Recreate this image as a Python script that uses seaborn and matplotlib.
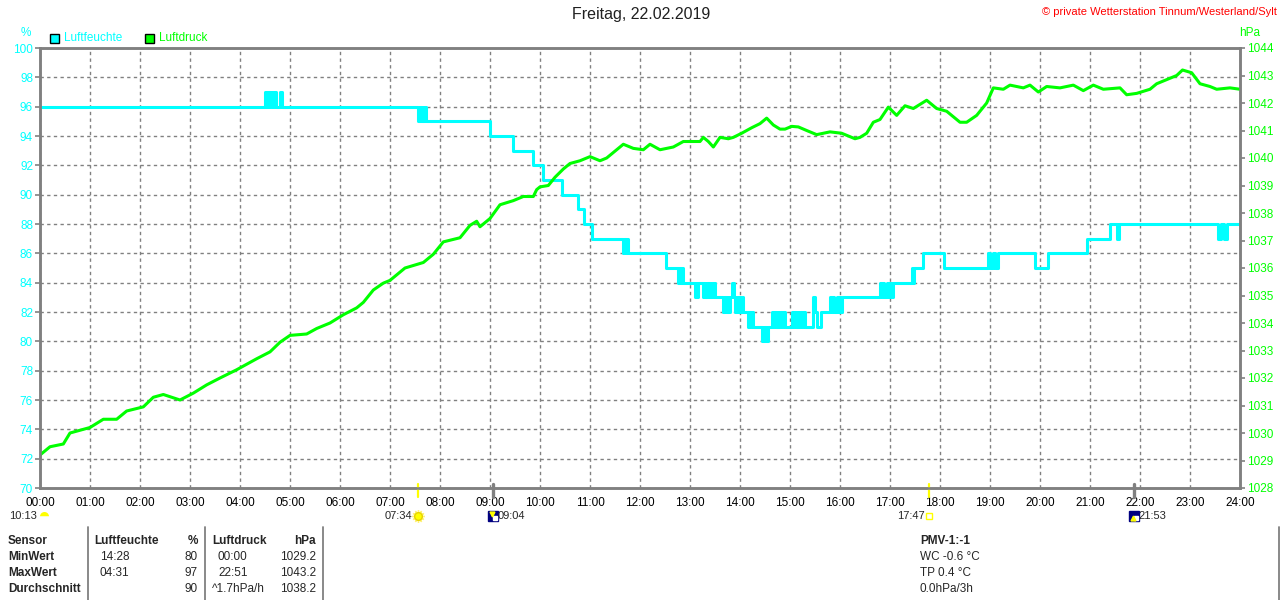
import numpy as np
import pandas as pd
import matplotlib.pyplot as plt
import seaborn as sns
from matplotlib.lines import Line2D
from matplotlib.patches import Rectangle
from matplotlib.transforms import blended_transform_factory, offset_copy


# Texte
titel = "Freitag, 22.02.2019"
quelle = "© private Wetterstation Tinnum/Westerland/Sylt"
x_labels = ["00:00", "01:00", "02:00", "03:00", "04:00", "05:00", "06:00", "07:00",
            "08:00", "09:00", "10:00", "11:00", "12:00", "13:00", "14:00", "15:00",
            "16:00", "17:00", "18:00", "19:00", "20:00", "21:00", "22:00", "23:00", "24:00"]

# Luftfeuchte (%), Stufenwerte
feuchte_zeit = ["00:00",
                "04:30", "04:31", "04:32", "04:34", "04:35", "04:37", "04:38", "04:40",
                "04:41", "04:43", "04:48", "04:50",
                "07:34", "07:36", "07:37", "07:39", "07:40", "07:42", "07:43",
                "09:00", "09:28", "09:52", "10:04", "10:26", "10:46", "10:53", "11:02",
                "11:40", "11:41", "11:43", "11:44", "11:46",
                "12:31", "12:46", "12:47", "12:49", "12:50", "12:52",
                "13:06", "13:07", "13:08", "13:09", "13:11", "13:16", "13:17", "13:18",
                "13:20", "13:22", "13:23", "13:24", "13:26", "13:28", "13:29", "13:30",
                "13:40", "13:42", "13:43", "13:45", "13:46", "13:48", "13:50", "13:53",
                "13:54", "13:56", "13:57", "13:59", "14:00", "14:02", "14:04",
                "14:10", "14:11", "14:13", "14:14", "14:16", "14:18",
                "14:26", "14:27", "14:28", "14:30", "14:31", "14:34",
                "14:38", "14:40", "14:41", "14:43", "14:45", "14:46", "14:48", "14:50", "14:52", "14:54",
                "15:02", "15:04", "15:05", "15:07", "15:09", "15:10", "15:12", "15:14", "15:16", "15:18", "15:20",
                "15:28", "15:30", "15:32", "15:37",
                "15:48", "15:50", "15:51", "15:53", "15:56", "15:57", "15:59", "16:00", "16:02", "16:04",
                "16:48", "16:50", "16:51", "16:53", "16:56", "16:58", "17:00", "17:02", "17:04",
                "17:26", "17:27", "17:29", "17:40", "18:05",
                "18:58", "19:00", "19:03", "19:06", "19:10",
                "19:54", "20:10", "20:56", "21:24", "21:32", "21:35",
                "23:34", "23:37", "23:41", "23:44", "24:00"]
feuchte_wert = [96,
                97, 96, 97, 96, 97, 96, 97, 96,
                97, 96, 97, 96,
                95, 96, 95, 96, 95, 96, 95,
                94, 93, 92, 91, 90, 89, 88, 87,
                86, 87, 86, 87, 86,
                85, 84, 85, 84, 85, 84,
                83, 84, 83, 84, 84, 83, 84, 83,
                84, 83, 84, 83, 84, 83, 84, 83,
                82, 83, 82, 83, 82, 83, 84, 83,
                82, 83, 82, 83, 82, 83, 82,
                81, 82, 81, 82, 81, 81,
                80, 81, 80, 81, 80, 81,
                82, 81, 82, 81, 82, 81, 82, 81, 82, 81,
                82, 81, 82, 81, 82, 81, 82, 81, 82, 81, 81,
                83, 82, 81, 82,
                83, 82, 83, 82, 83, 82, 83, 82, 83, 83,
                84, 83, 84, 83, 84, 83, 84, 83, 84,
                85, 84, 85, 86, 85,
                86, 85, 86, 85, 86,
                85, 86, 87, 88, 87, 88,
                87, 88, 87, 88, 88]

# Luftdruck (hPa)
druck_zeit = ["00:00", "00:12", "00:28", "00:36", "01:00", "01:16", "01:32", "01:44",
              "02:04", "02:16", "02:28", "02:48", "03:04", "03:20", "03:36", "03:56",
              "04:20", "04:36", "04:48", "05:00", "05:20", "05:32", "05:48", "06:04",
              "06:20", "06:28", "06:40", "06:52", "07:00", "07:18", "07:40", "07:52",
              "08:04", "08:24", "08:36", "08:44", "08:48", "09:00", "09:12", "09:28",
              "09:40", "09:52", "09:56", "10:00", "10:10", "10:18", "10:28", "10:36",
              "10:48", "11:00", "11:12", "11:20", "11:32", "11:40", "11:52", "12:04",
              "12:12", "12:24", "12:40", "12:52", "13:00", "13:12", "13:16", "13:22",
              "13:28", "13:36", "13:46", "13:52", "14:02", "14:14", "14:24", "14:32",
              "14:40", "14:48", "14:54", "15:02", "15:10", "15:20", "15:32", "15:48",
              "16:02", "16:18", "16:24", "16:32", "16:40", "16:48", "16:58", "17:08",
              "17:18", "17:28", "17:44", "17:56", "18:08", "18:24", "18:32", "18:44",
              "18:56", "19:04", "19:16", "19:24", "19:40", "19:48", "19:58", "20:08",
              "20:24", "20:40", "20:52", "21:04", "21:16", "21:36", "21:44", "21:56",
              "22:12", "22:20", "22:32", "22:44", "22:51", "23:02", "23:12", "23:24",
              "23:32", "23:48", "24:00"]
druck_wert = [1029.2, 1029.5, 1029.6, 1030.0, 1030.2, 1030.5, 1030.5, 1030.8,
              1030.95, 1031.3, 1031.4, 1031.2, 1031.45, 1031.75, 1032.0, 1032.3,
              1032.7, 1032.95, 1033.3, 1033.55, 1033.6, 1033.8, 1034.0, 1034.3,
              1034.55, 1034.75, 1035.2, 1035.45, 1035.55, 1036.0, 1036.2, 1036.5,
              1036.95, 1037.1, 1037.55, 1037.7, 1037.5, 1037.8, 1038.3, 1038.45,
              1038.6, 1038.6, 1038.85, 1038.95, 1039.0, 1039.3, 1039.6, 1039.8,
              1039.9, 1040.05, 1039.9, 1040.0, 1040.3, 1040.5, 1040.35, 1040.3,
              1040.5, 1040.3, 1040.4, 1040.6, 1040.6, 1040.6, 1040.75, 1040.6,
              1040.4, 1040.75, 1040.7, 1040.75, 1040.9, 1041.1, 1041.25, 1041.45,
              1041.2, 1041.05, 1041.05, 1041.15, 1041.13, 1041.0, 1040.85, 1040.95,
              1040.9, 1040.7, 1040.75, 1040.9, 1041.3, 1041.4, 1041.85, 1041.55,
              1041.9, 1041.8, 1042.1, 1041.8, 1041.7, 1041.3, 1041.3, 1041.55,
              1042.0, 1042.55, 1042.5, 1042.65, 1042.55, 1042.65, 1042.4, 1042.6,
              1042.55, 1042.65, 1042.45, 1042.65, 1042.5, 1042.55, 1042.3, 1042.35,
              1042.5, 1042.7, 1042.85, 1043.0, 1043.2, 1043.1, 1042.7, 1042.6,
              1042.5, 1042.55, 1042.5]

# Sonne / Mond
sonne_auf = "07:34"
sonne_unter = "17:47"
mond_unter = "09:04"
mond_auf = "21:53"
mondphase = "10:13"

# Tabelle unten
tab_sensor = ["Sensor", "MinWert", "MaxWert", "Durchschnitt"]
tab_feuchte_zeit = ["Luftfeuchte", "14:28", "04:31", ""]
tab_feuchte_wert = ["%", "80", "97", "90"]
tab_druck_zeit = ["Luftdruck", "00:00", "22:51", "^1.7hPa/h"]
tab_druck_wert = ["hPa", "1029.2", "1043.2", "1038.2"]
pmv_text = ["PMV-1:-1", "WC -0.6 °C", "TP 0.4 °C", "0.0hPa/3h"]

CYAN = "#00FFFF"
GRUEN = "#00FF00"
GRAU = "#808080"
GELB = "#FFFF00"


def zu_stunden(zeiten):
    t = pd.Series(zeiten).str.split(":", expand=True).astype(int)
    return (t[0] + t[1] / 60).to_numpy()


def px(x, y):
    # Pixel -> Figurkoordinaten
    return x / 1280, 1 - y / 600


sns.set_style("white")
plt.rcParams["font.family"] = ["Liberation Sans", "DejaVu Sans"]

fig = plt.figure(figsize=(12.8, 6.0), dpi=100)
ax = fig.add_axes([40 / 1280, 1 - 488 / 600, 1200 / 1280, 440 / 600])
ax2 = ax.twinx()

df_f = pd.DataFrame({"stunde": zu_stunden(feuchte_zeit), "feuchte": feuchte_wert})
df_d = pd.DataFrame({"stunde": zu_stunden(druck_zeit), "druck": druck_wert})

sns.lineplot(data=df_f, x="stunde", y="feuchte", ax=ax, color=CYAN, linewidth=2.2,
             drawstyle="steps-post", estimator=None, sort=False, errorbar=None)
sns.lineplot(data=df_d, x="stunde", y="druck", ax=ax2, color=GRUEN, linewidth=2.2,
             estimator=None, sort=False, errorbar=None)

# Achsen
ax.set_xlim(0, 24)
ax.set_ylim(70, 100)
ax.set_xticks(range(25))
ax.set_xticklabels(x_labels)
ax.set_yticks(range(70, 101, 2))
ax2.set_ylim(1028, 1044)
ax2.set_yticks(range(1028, 1045))
ax.set_xlabel("")
ax.set_ylabel("")
ax2.set_ylabel("")

ax.grid(True, color=GRAU, linestyle=(0, (2.4, 2.4)), linewidth=1)
ax2.grid(False)
for a in (ax, ax2):
    for s in a.spines.values():
        s.set_color(GRAU)
        s.set_linewidth(1.8)
        s.set_visible(True)

ax.tick_params(axis="y", color=GRAU, labelcolor=CYAN, length=3.5, width=1.2, pad=1.5,
               labelsize=8.5, direction="out", left=True)
ax.tick_params(axis="x", length=0, pad=6.5, labelsize=8.5, labelcolor="black")
ax2.tick_params(axis="y", color=GRAU, labelcolor=GRUEN, length=3.5, width=1.2, pad=1.5,
                labelsize=8.5, direction="out", right=True)

# Titel und Quelle
fig.text(*px(641, 15), titel, ha="center", va="center", fontsize=11.5, color="#202020")
fig.text(*px(1277, 12), quelle, ha="right", va="center", fontsize=8, color="#FF0000")

# Einheiten
fig.text(*px(26, 33), "%", ha="center", va="center", fontsize=8.5, color=CYAN)
fig.text(*px(1250, 33), "hPa", ha="center", va="center", fontsize=8.5, color=GRUEN)

# Legende
for x0, farbe, text in [(50, CYAN, "Luftfeuchte"), (145, GRUEN, "Luftdruck")]:
    fx, fy = px(x0, 43)
    fig.patches.append(Rectangle((fx, fy), 9 / 1280, 9 / 600, transform=fig.transFigure,
                                 facecolor=farbe, edgecolor="black", linewidth=1))
    fig.text(*px(x0 + 14, 38), text, ha="left", va="center", fontsize=8.5, color=farbe)

# Sonne und Mond an der Zeitachse
trans = blended_transform_factory(ax.transData, fig.transFigure)
y_strich = [1 - 484 / 600, 1 - 497 / 600]
y_icon = 1 - 516 / 600
fs_icon = 8

for zeit in (sonne_auf, sonne_unter):
    t = zu_stunden([zeit])[0]
    ax.plot([t, t], y_strich, transform=trans, color=GELB, linewidth=1.6, clip_on=False, zorder=5)
for zeit in (mond_unter, mond_auf):
    t = zu_stunden([zeit])[0]
    ax.plot([t, t], y_strich, transform=trans, color=GRAU, linewidth=2.4, clip_on=False, zorder=5)

t_auf = zu_stunden([sonne_auf])[0]
ax.plot([t_auf], [y_icon], transform=trans, marker=(12, 2, 0), markersize=9,
        color="#FFF27A", markeredgewidth=1, clip_on=False)
ax.plot([t_auf], [y_icon], transform=trans, marker="o", markersize=5.5, color=GELB,
        markeredgecolor="#E6D200", clip_on=False)
ax.annotate(sonne_auf, (t_auf, y_icon), xycoords=trans, xytext=(-4.5, 0),
            textcoords="offset points", ha="right", va="center", fontsize=fs_icon)

t_unter = zu_stunden([sonne_unter])[0]
ax.plot([t_unter], [y_icon], transform=trans, marker="s", markersize=5, markerfacecolor="none",
        markeredgecolor=GELB, markeredgewidth=1, clip_on=False)
ax.annotate(sonne_unter, (t_unter, y_icon), xycoords=trans, xytext=(-3.5, 0),
            textcoords="offset points", ha="right", va="center", fontsize=fs_icon)

for zeit, pfeil, dy in [(mond_unter, "v", 1.5), (mond_auf, "^", -1.5)]:
    t = zu_stunden([zeit])[0]
    ax.plot([t], [y_icon], transform=trans, marker="s", markersize=7, color="#000080", clip_on=False)
    ax.plot([t], [y_icon], transform=offset_copy(trans, fig=fig, x=1.3, y=-1.3, units="points"),
            marker="s", markersize=2.5, color="white", clip_on=False)
    ax.plot([t], [y_icon], transform=offset_copy(trans, fig=fig, x=-1, y=dy, units="points"),
            marker=pfeil, markersize=3.5, color=GELB, clip_on=False)
    ax.annotate(zeit, (t, y_icon), xycoords=trans, xytext=(3, 0),
                textcoords="offset points", ha="left", va="center", fontsize=fs_icon)

# Mondphase
fig.add_artist(Line2D([43.5 / 1280], [1 - 516 / 600], marker="o", markersize=6.5, fillstyle="top",
                      markerfacecolor=GELB, markerfacecoloralt="white", markeredgecolor="none"))
fig.text(*px(37, 516), mondphase, ha="right", va="center", fontsize=fs_icon)

# Tabelle
zeilen_y = [541, 557, 573, 589]
for i, y in enumerate(zeilen_y):
    kopf = "bold" if i == 0 else "normal"
    fig.text(*px(8, y), tab_sensor[i], ha="left", va="center", fontsize=8.5, fontweight="bold")
    fig.text(*px(94 if i == 0 else 100, y), tab_feuchte_zeit[i], ha="left", va="center",
             fontsize=8.5, fontweight=kopf)
    fig.text(*px(198, y), tab_feuchte_wert[i], ha="right", va="center", fontsize=8.5, fontweight=kopf)
    fig.text(*px(212 if i in (0, 3) else 218, y), tab_druck_zeit[i], ha="left", va="center",
             fontsize=8.5, fontweight=kopf)
    fig.text(*px(316, y), tab_druck_wert[i], ha="right", va="center", fontsize=8.5, fontweight=kopf)
    fig.text(*px(920, y), pmv_text[i], ha="left", va="center", fontsize=8.5, fontweight=kopf)

for xs in (88, 205, 323, 1279):
    fig.add_artist(Line2D([xs / 1280, xs / 1280], [1 - 527 / 600, 0], color=GRAU, linewidth=1.3))

fig.savefig("out.png", dpi=100, facecolor="white")
